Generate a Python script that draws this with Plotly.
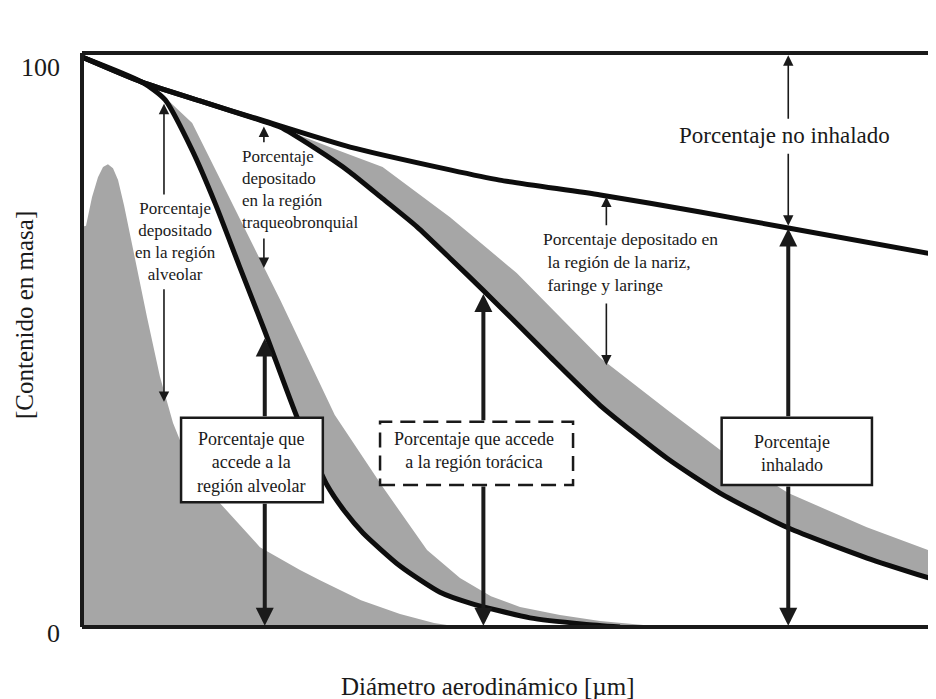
#%% Imports
import plotly.graph_objects as go

#%% Data (x: relative aerodynamic diameter scale 0-100, y: mass content %)
# inhalable fraction (upper line)
inh_x = [0, 7.0, 13.8, 21.1, 31.4, 43.1, 48.9, 60.7, 72.4, 82.7, 100]
inh_y = [100, 95.6, 92.3, 88.9, 84.2, 80.2, 78.4, 75.8, 72.8, 70.0, 65.3]

# thoracic fraction
tho_x = [0, 7.03, 13.82, 21.08, 23.19, 27.28, 31.38, 35.25, 39.23, 43.09, 46.96,
         50.94, 54.80, 60.66, 68.50, 74.71, 82.67, 91.92, 100]
tho_y = [100, 95.6, 92.3, 88.8, 87.7, 84.0, 79.8, 75.1, 70.2, 64.7, 59.1,
         53.2, 47.4, 38.9, 29.6, 23.5, 17.4, 12.1, 8.2]
# grey band above thoracic curve
tho_band_x = [23.5, 24.7, 30.2, 35.2, 43.1, 50.9, 60.7, 68.5, 74.7, 82.7, 91.9, 100]
tho_band_y = [87.5, 86.7, 83.5, 80.7, 71.9, 62.1, 47.2, 38.1, 31.1, 23.5, 17.5, 13.0]

# alveolar fraction
alv_x = [0, 7.03, 9.72, 12.88, 15.57, 18.38, 21.43, 25.18, 28.69, 30.80, 32.90,
         37.24, 41.92, 45.43, 52.46, 58.78, 63.0]
alv_y = [100, 95.6, 92.5, 83.7, 74.4, 63.5, 51.8, 36.8, 24.9, 20.2, 16.5,
         10.7, 6.1, 4.2, 1.6, 0.5, 0]
# grey band right of alveolar curve
alv_band_x = [7.8, 12.9, 16.4, 20.3, 23.2, 29.6, 35.2, 40.4, 44.26, 47.89, 51.29,
              55.97, 60.66, 68.27]
alv_band_y = [95.6, 88.4, 77.9, 66.1, 57.4, 37.2, 24.6, 13.5, 8.6, 5.4, 3.5,
              2.1, 1.05, 0]

# particle size distribution (grey area, left)
dist_x = [0, 0.47, 1.17, 1.87, 2.46, 3.04, 3.63, 4.22, 4.92, 5.97, 7.61, 9.13,
          10.66, 11.71, 13.82, 15.81, 18.5, 20.84, 25.53, 27.87, 32.67, 37.24,
          41.22, 44.26]
dist_y = [70.2, 70.4, 75.4, 78.9, 80.7, 81.2, 80.5, 78.4, 74.0, 66.1, 54.4, 43.9,
          35.8, 31.9, 26.1, 22.3, 17.9, 14.0, 10.0, 8.2, 4.7, 2.3, 0.7, 0]

#%% Figure
GREY = '#a6a6a6'
INK = '#1a1a1a'
FONT = 'Liberation Serif, Times New Roman, serif'

fig = go.Figure()

fig.add_trace(go.Scatter(x=dist_x, y=dist_y, mode='lines', fill='tozeroy',
                         fillcolor=GREY, line=dict(width=0, color=GREY),
                         hoverinfo='skip'))

# bands: upper edge forward, black curve back
def band(ex, ey, cx, cy, xmin):
    px = list(ex) + [x for x in cx if x >= xmin][::-1]
    py = list(ey) + [y for x, y in zip(cx, cy) if x >= xmin][::-1]
    fig.add_trace(go.Scatter(x=px, y=py, mode='lines', fill='toself',
                             fillcolor=GREY, line=dict(width=0, color=GREY),
                             hoverinfo='skip'))

band(tho_band_x, tho_band_y, tho_x, tho_y, 23.0)
band(alv_band_x, alv_band_y, alv_x, alv_y, 7.0)

for xs, ys in [(alv_x, alv_y), (tho_x, tho_y), (inh_x, inh_y)]:
    fig.add_trace(go.Scatter(x=xs, y=ys, mode='lines',
                             line=dict(color='#0d0d0d', width=5,
                                       shape='spline', smoothing=0.6),
                             hoverinfo='skip', cliponaxis=False))

# frame (right side runs off the page)
for x0, y0, x1, y1 in [(0, 1, 1.02, 1), (0, 0, 1.02, 0), (0, 0, 0, 1)]:
    fig.add_shape(type='line', xref='paper', yref='paper', x0=x0, y0=y0,
                  x1=x1, y1=y1, line=dict(color=INK, width=4))

# boxes
def box(x0, x1, y0, y1, dash='solid'):
    fig.add_shape(type='rect', xref='x', yref='y', x0=x0, x1=x1, y0=y0, y1=y1,
                  fillcolor='white', layer='above',
                  line=dict(color=INK, width=2.5, dash=dash))

box(11.6, 28.2, 21.9, 36.7)
box(34.9, 57.5, 24.9, 36.0, dash='15px,8px')
box(74.9, 92.5, 24.9, 36.7)

def txt(x, y, s, size=18, anchor='center'):
    fig.add_annotation(x=x, y=y, xref='x', yref='y', text=s, showarrow=False,
                       xanchor=anchor, yanchor='middle', align=anchor,
                       font=dict(family=FONT, size=size, color=INK))

def arrow(x, tail, tip, width, size):
    fig.add_annotation(x=x, y=tip, ax=x, ay=tail, xref='x', yref='y',
                       axref='x', ayref='y', text='', showarrow=True,
                       arrowhead=2, arrowwidth=width, arrowsize=size,
                       arrowcolor=INK, standoff=0)

# thick arrows through boxes
for x, up_tail, up_tip, dn_tail in [(21.4, 36.7, 50.6, 21.9),
                                    (47.0, 36.0, 58.4, 24.9),
                                    (82.7, 36.7, 69.9, 24.9)]:
    arrow(x, up_tail, up_tip, 4, 0.9)
    arrow(x, dn_tail, 0.2, 4, 0.9)

# thin arrows
for x, a, b, c, d in [(82.7, 88.9, 100.3, 83.3, 70.4),
                      (9.6, 75.6, 91.8, 59.5, 39.5),
                      (21.3, 84.8, 87.8, 68.4, 63.0),
                      (61.4, 70.2, 75.5, 57.0, 45.9)]:
    arrow(x, a, b, 1.6, 1.3)
    arrow(x, c, d, 1.6, 1.3)

# box texts
txt(19.8, 28.9, 'Porcentaje que<br>accede a la<br>región alveolar')
txt(45.9, 30.9, 'Porcentaje que accede<br>a la región torácica')
txt(83.1, 30.5, 'Porcentaje<br>inhalado')

# free labels
txt(82.3, 86.3, 'Porcentaje no inhalado', size=23)
txt(11.0, 67.6, 'Porcentaje<br>depositado<br>en la región<br>alveolar', size=17)
txt(18.5, 76.8, 'Porcentaje<br>depositado<br>en la región<br>traqueobronquial',
    size=17, anchor='left')
txt(53.8, 64.0, 'Porcentaje depositado en<br> la región de la nariz,<br> faringe y laringe',
    size=17.5, anchor='left')

# tick labels and axis titles
def ptxt(x, y, s, size, xanchor='center', angle=0):
    fig.add_annotation(x=x, y=y, xref='paper', yref='paper', text=s,
                       showarrow=False, xanchor=xanchor, yanchor='middle',
                       textangle=angle,
                       font=dict(family=FONT, size=size, color=INK))

ptxt(-0.023, 0.9756, '100', 26, xanchor='right')
ptxt(-0.023, -0.0105, '0', 26, xanchor='right')
ptxt(0.4754, -0.1045, 'Diámetro aerodinámico [µm]', 25)
ptxt(-0.0667, 0.5436, '[Contenido en masa]', 25, angle=-90)

# page body has an 8px margin, so the figure is shifted accordingly
fig.update_layout(
    width=936, height=691,
    margin=dict(l=74, r=8, t=45, b=72),
    paper_bgcolor='white', plot_bgcolor='white',
    showlegend=False,
    xaxis=dict(range=[0, 100], visible=False, fixedrange=True),
    yaxis=dict(range=[0, 100.7], visible=False, fixedrange=True),
)

fig.write_html("out.html")
